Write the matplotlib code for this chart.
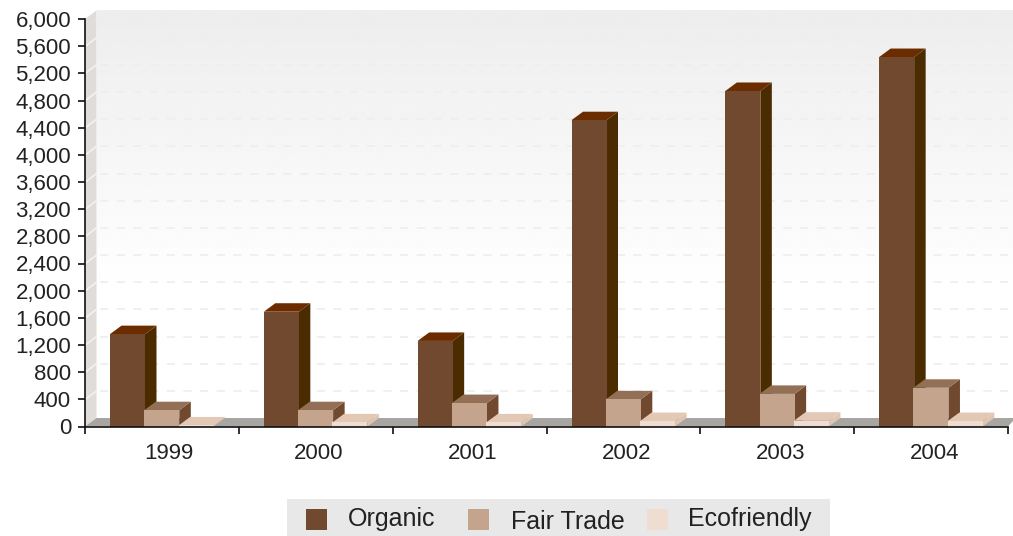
import matplotlib
matplotlib.use("Agg")
import matplotlib.pyplot as plt
import numpy as np
from matplotlib.patches import Polygon, Rectangle

YEARS = ["1999", "2000", "2001", "2002", "2003", "2004"]
ORGANIC = [1360, 1690, 1260, 4510, 4940, 5440]
FAIR_TRADE = [240, 240, 345, 400, 480, 570]
ECOFRIENDLY = [15, 60, 60, 80, 85, 80]
Y_TICKS = list(range(0, 6400, 400))

W, H = 1013, 536
LEFT, RIGHT, TOP, BOTTOM = 85, 1008, 19, 426.5

# front, side, top
COLORS = {
    "Organic": ("#71492f", "#4a2c00", "#6b2d00"),
    "Fair Trade": ("#c5a48e", "#71492f", "#937055"),
    "Ecofriendly": ("#efddd2", "#dfc5b2", "#e2c8b5"),
}
SWATCH = {"Organic": "#71492f", "Fair Trade": "#c5a48e", "Ecofriendly": "#efddd2"}

plt.rcParams["font.family"] = ["Liberation Sans", "DejaVu Sans"]
TEXT_COLOR = "#222222"

fig = plt.figure(figsize=(W / 100, H / 100), dpi=100)
ax = fig.add_axes([LEFT / W, 1 - BOTTOM / H, (RIGHT - LEFT) / W, (BOTTOM - TOP) / H])
ax.set_xlim(0, 6)
ax.set_ylim(0, 6000)
ax.patch.set_visible(False)

# depth of the fake 3d, in data units
DX = 11.5 / ((RIGHT - LEFT) / 6)
DY = 8.5 / ((BOTTOM - TOP) / 6000)
BAR_W = 35 / ((RIGHT - LEFT) / 6)
START = 25 / ((RIGHT - LEFT) / 6)

# back wall gradient, white from about a third of the way up
grad = np.clip(np.linspace(0.93, 1.03, 256), 0, 1).reshape(-1, 1)
ax.imshow(grad, cmap="gray", vmin=0, vmax=1, aspect="auto", zorder=0,
          extent=(DX, 6.05, 0 + DY, 6000 + DY), origin="upper", clip_on=False)
ax.set_xlim(0, 6)
ax.set_ylim(0, 6000)

# left wall and floor
ax.add_patch(Polygon([(0, 0), (DX, DY), (DX, 6000 + DY), (0, 6000)],
                     fc="#e0dcd9", ec="none", zorder=1, clip_on=False))
ax.add_patch(Polygon([(0, 0), (DX, DY), (6.05, DY), (6.0, 0)],
                     fc="#a8a6a3", ec="none", zorder=1, clip_on=False))

# dashed grid on the wall
for v in Y_TICKS[1:-1]:
    ax.plot([DX + 0.02, 6.05], [v + DY, v + DY], color="#eeeeee", lw=1.2,
            dashes=(5, 5), zorder=1.5, clip_on=False)
    ax.plot([0.01, DX], [v + DY * 0.1, v + DY], color="#f4f2f0", lw=1.2, zorder=1.5)


def draw_bar(x, value, colors, z):
    front, side, top = colors
    ax.add_patch(Polygon([(x + BAR_W, 0), (x + BAR_W + DX, DY),
                          (x + BAR_W + DX, value + DY), (x + BAR_W, value)],
                         fc=side, ec="none", zorder=z, clip_on=False))
    ax.add_patch(Polygon([(x, value), (x + DX, value + DY),
                          (x + BAR_W + DX, value + DY), (x + BAR_W, value)],
                         fc=top, ec="none", zorder=z, clip_on=False))
    ax.add_patch(Rectangle((x, 0), BAR_W, value, fc=front, ec="none", zorder=z))


series = [("Organic", ORGANIC), ("Fair Trade", FAIR_TRADE), ("Ecofriendly", ECOFRIENDLY)]
for i in range(len(YEARS)):
    for k, (name, vals) in enumerate(series):
        draw_bar(i + START + k * BAR_W * 0.98, vals[i], COLORS[name], 3 + k * 0.1)

for side in ["top", "right"]:
    ax.spines[side].set_visible(False)
for side in ["left", "bottom"]:
    ax.spines[side].set_color("#111111")
    ax.spines[side].set_linewidth(1.2)
    ax.spines[side].set_zorder(6)

ax.set_yticks(Y_TICKS)
ax.set_yticklabels([f"{v:,}" for v in Y_TICKS], fontsize=16, color=TEXT_COLOR)
ax.tick_params(axis="y", length=5, width=1.2, pad=5, color="#111111")
ax.set_xticks(np.arange(7))
ax.set_xticklabels([])
ax.tick_params(axis="x", length=5, width=1.2, direction="out", color="#111111")
for i, year in enumerate(YEARS):
    # the first label sits a little to the right in the original
    nudge = 0.025 if i == 0 else 0
    ax.text(i + 0.52 + nudge, -395, year, ha="center", va="center", fontsize=16, color=TEXT_COLOR)


def px(x, y):
    return x / W, 1 - y / H


# legend
lx, ly = px(287, 536)
fig.patches.append(Rectangle((lx, ly), 543 / W, 37 / H, transform=fig.transFigure,
                             fc="#e8e8e8", ec="none"))
legend_items = [("Organic", 306, 348, 526), ("Fair Trade", 468, 511, 529), ("Ecofriendly", 647, 688, 526)]
for name, sx, tx, base in legend_items:
    x0, y0 = px(sx, 530)
    fig.patches.append(Rectangle((x0, y0), 21 / W, 21 / H, transform=fig.transFigure,
                                 fc=SWATCH[name], ec="none"))
    x1, y1 = px(tx, base)
    fig.text(x1, y1, name, ha="left", va="baseline", fontsize=18, color=TEXT_COLOR)

fig.savefig("out.png", dpi=100)
